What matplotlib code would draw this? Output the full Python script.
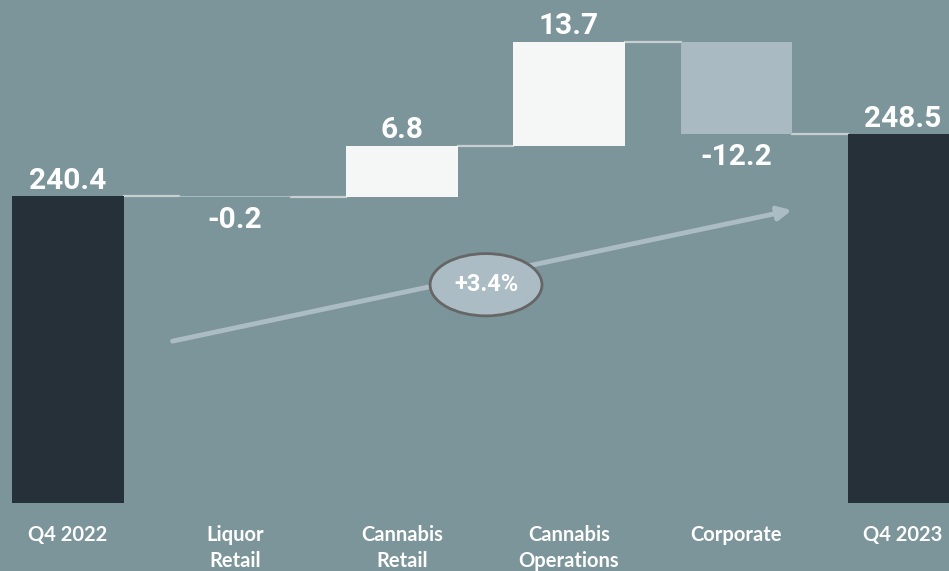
import matplotlib.pyplot as plt
from matplotlib.patches import Ellipse
import numpy as np

# Waterfall values
categories = ['Q4 2022', 'Liquor\nRetail', 'Cannabis\nRetail', 'Cannabis\nOperations', 'Corporate', 'Q4 2023']
changes = [240.4, -0.2, 6.8, 13.7, -12.2, 248.5]
value_labels = ['240.4', '-0.2', '6.8', '13.7', '-12.2', '248.5']
growth_label = '+3.4%'

BG = '#7b959a'
DARK = '#263038'
UP = '#f5f7f7'
DOWN = '#a9bac3'
LINE = '#c9cfd0'
BASE = 200.0

fig = plt.figure(figsize=(9.49, 5.71), dpi=100, facecolor=BG)
ax = fig.add_axes([0, 0, 1, 1])
ax.set_facecolor(BG)

x = np.arange(len(categories))
width = 0.665

# running totals for the floating bars
bottoms = []
tops = []
level = 0.0
for i, v in enumerate(changes):
    if i == 0 or i == len(changes) - 1:
        bottoms.append(BASE)
        tops.append(v)
        level = v
    else:
        new = level + v
        bottoms.append(min(level, new))
        tops.append(max(level, new))
        level = new

heights = [t - b for t, b in zip(tops, bottoms)]
colors = []
for i, v in enumerate(changes):
    if i == 0 or i == len(changes) - 1:
        colors.append(DARK)
    elif v >= 0:
        colors.append(UP)
    else:
        colors.append(DOWN)

ax.bar(x, heights, width=width, bottom=bottoms, color=colors, zorder=2)

# connectors between consecutive bars
level = changes[0]
for i in range(len(changes) - 1):
    ax.plot([x[i] + width / 2, x[i + 1] - width / 2], [level, level],
            color=LINE, lw=1.6, zorder=1)
    if i + 1 < len(changes) - 1:
        level = level + changes[i + 1]

# value labels: above for totals and gains, below for losses
lbl = dict(color='white', fontsize=21.5, fontweight='bold', family='Roboto',
           ha='center', textcoords='offset points')
for i, v in enumerate(changes):
    if i == 0 or i == len(changes) - 1 or v >= 0:
        ax.annotate(value_labels[i], (x[i], tops[i]), xytext=(0, 1),
                    va='bottom', **lbl)
    else:
        ax.annotate(value_labels[i], (x[i], bottoms[i]), xytext=(0, -6),
                    va='top', **lbl)

# category labels under the bars
for i, c in enumerate(categories):
    ax.text(x[i], 197.0, c, ha='center', va='top', color='white',
            fontsize=14.5, fontweight='bold', family='Lato', linespacing=1.35)

# growth arrow with the percentage bubble
ax.annotate('', xy=(4.35, 238.6), xytext=(0.61, 221.2),
            arrowprops=dict(arrowstyle='-|>,head_length=0.8,head_width=0.4',
                            color='#abbcc4', lw=3.5), zorder=3)
ax.add_patch(Ellipse((2.503, 228.7), 0.67, 8.2, facecolor='#abbcc4',
                     edgecolor='#666666', lw=2, zorder=4))
ax.text(2.503, 228.7, growth_label, ha='center', va='center', color='white',
        fontsize=17, fontweight='bold', family='Roboto', zorder=5)

ax.set_xlim(-0.407, 5.275)
ax.set_ylim(191.0, 266.2)
ax.axis('off')

fig.savefig('out.png', dpi=100, facecolor=BG)
